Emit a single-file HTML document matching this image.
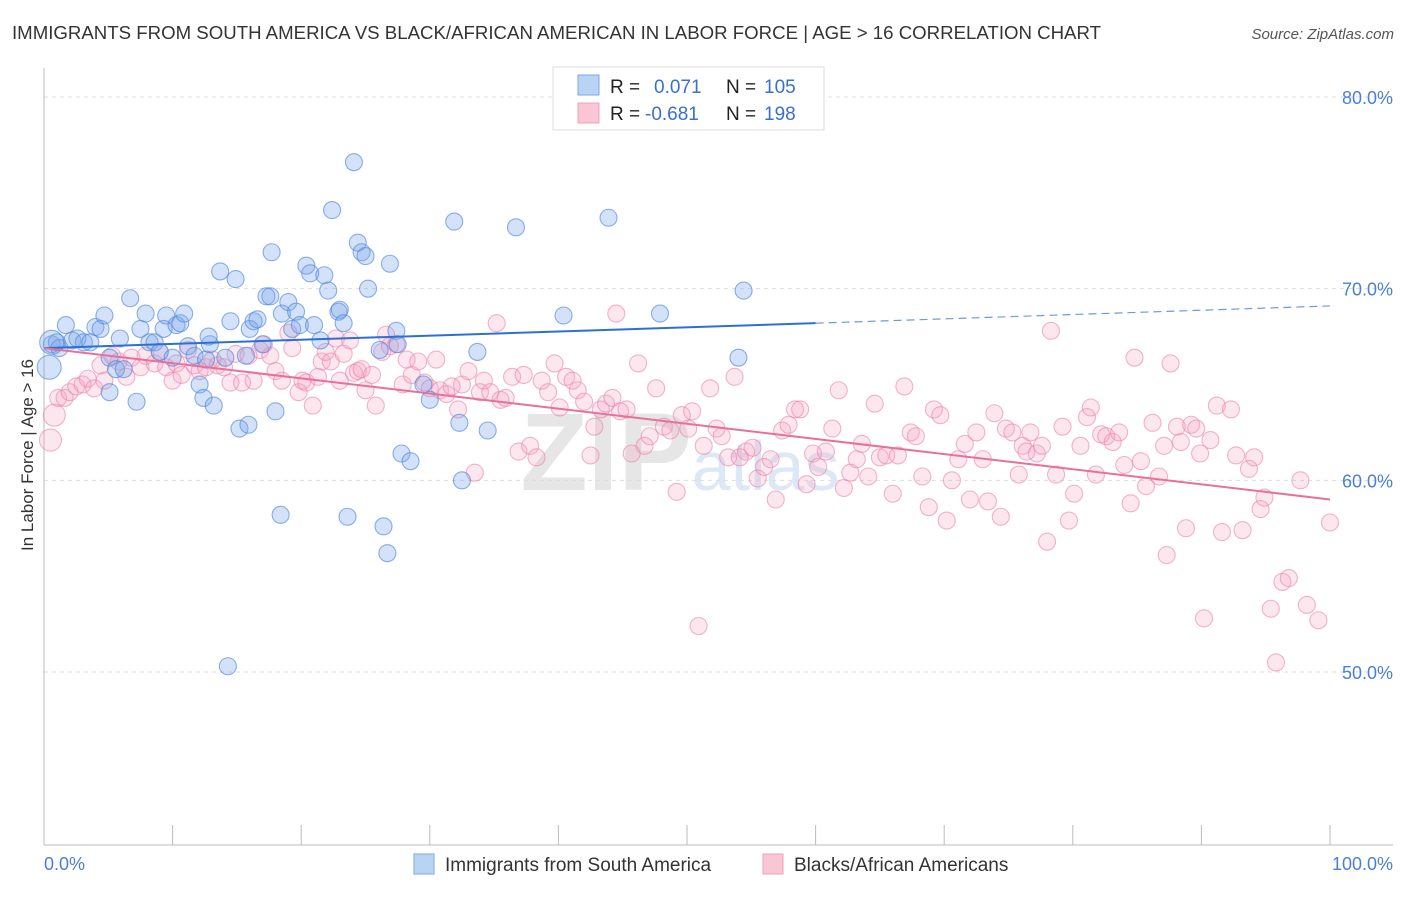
<!DOCTYPE html>
<html><head><meta charset="utf-8"><style>
body{margin:0;background:#fff;font-family:"Liberation Sans",sans-serif;}
svg text{font-family:"Liberation Sans",sans-serif;}
</style></head><body>
<svg id="chart" width="1406" height="892" xmlns="http://www.w3.org/2000/svg">
<text x="12" y="39" font-size="18" fill="#333" textLength="1089" lengthAdjust="spacingAndGlyphs">IMMIGRANTS FROM SOUTH AMERICA VS BLACK/AFRICAN AMERICAN IN LABOR FORCE | AGE &gt; 16 CORRELATION CHART</text>
<text x="1394" y="39" font-size="15" fill="#555" font-style="italic" text-anchor="end">Source: ZipAtlas.com</text>
<text x="680" y="490" font-size="110" fill="#e6e6e6" text-anchor="middle" font-weight="bold">ZIP<tspan fill="#dde8f6" font-size="70" font-weight="normal">atlas</tspan></text>
<g id="grid"></g>
<g id="axes"></g>
<g id="pts"></g>
<g id="lines"></g>
<text transform="translate(33,455) rotate(-90)" font-size="17" fill="#333" text-anchor="middle">In Labor Force | Age &gt; 16</text>
<text x="44" y="870" font-size="18" fill="#4a7fd4">0.0%</text>
<text x="1393" y="870" font-size="18" fill="#4a7fd4" text-anchor="end">100.0%</text>
<g>
<rect x="553" y="67" width="271" height="63" fill="#fff" stroke="#ddd"/>
<rect x="578" y="75" width="21" height="20" fill="#b9d3f5" stroke="#7aa8e6"/>
<rect x="578" y="103" width="21" height="20" fill="#f9c6d6" stroke="#f0a0bc"/>
<text x="610" y="93" font-size="19" fill="#222">R =</text>
<text x="654" y="93" font-size="19" fill="#3a6fd0">0.071</text>
<text x="726" y="93" font-size="19" fill="#222">N =</text>
<text x="764" y="93" font-size="19" fill="#3a6fd0">105</text>
<text x="610" y="120" font-size="19" fill="#222">R =</text>
<text x="645" y="120" font-size="19" fill="#3a6fd0">-0.681</text>
<text x="726" y="120" font-size="19" fill="#222">N =</text>
<text x="764" y="120" font-size="19" fill="#3a6fd0">198</text>
</g>
<g>
<rect x="414" y="854" width="20" height="20" fill="#b9d3f5" stroke="#7aa8e6"/>
<text x="445" y="871" font-size="19" fill="#333">Immigrants from South America</text>
<rect x="763" y="854" width="20" height="20" fill="#f9c6d6" stroke="#f0a0bc"/>
<text x="794" y="871" font-size="19" fill="#333">Blacks/African Americans</text>
</g>
</svg>
<script>
const yTicks=[80,70,60,50];
const xTickCount=10;
const blueX=[0.6,1.0,1.2,1.7,2.2,2.6,3.1,3.6,4.0,4.4,4.7,5.1,5.6,5.9,6.2,5.1,6.7,7.2,7.5,7.9,8.2,8.6,9.0,9.3,9.5,10.0,10.3,10.6,10.9,11.2,11.7,12.1,12.4,12.6,12.9,13.2,12.8,13.7,14.1,14.5,14.9,15.2,15.9,16.0,16.3,16.6,15.7,17.0,17.3,17.6,17.7,18.0,18.4,18.5,19.0,19.3,19.6,19.9,20.4,20.7,21.0,21.5,21.8,22.1,22.4,22.9,23.0,23.3,23.6,24.1,24.4,24.7,25.0,25.2,26.1,26.4,26.7,26.9,27.4,27.5,27.8,28.5,29.5,30.0,31.9,32.3,32.5,33.7,34.5,36.7,40.4,43.9,47.9,54.0,54.4,14.3,0.4,0.6];
const blueY=[67.1,67.2,66.9,68.1,67.3,67.4,67.2,67.2,68.0,67.9,68.6,66.4,65.8,67.4,65.8,64.6,69.5,64.1,67.9,68.7,67.2,67.2,66.7,67.9,68.6,66.4,68.1,68.2,68.7,67.0,66.5,65.0,64.3,66.3,67.1,63.9,67.5,70.9,66.4,68.3,70.5,62.7,62.9,67.9,68.3,68.4,66.5,67.1,69.6,69.6,71.9,63.6,58.2,68.7,69.3,67.9,68.8,68.1,71.2,70.8,68.1,67.3,70.7,69.9,74.1,68.8,68.9,68.2,58.1,76.6,72.4,71.9,71.7,70.0,66.8,57.6,56.2,71.3,67.8,67.1,61.4,61.0,65.0,64.2,73.5,63.0,60.0,66.7,62.6,73.2,68.6,73.7,68.7,66.4,69.9,50.3,65.9,67.2];
const pinkX=[0.5,0.8,1.1,1.6,2.0,2.5,3.0,3.4,3.9,4.4,4.7,5.3,5.8,6.4,6.8,7.5,7.9,8.6,9.0,9.5,10.0,10.3,10.7,11.2,11.7,12.1,12.6,13.1,13.5,14.0,14.5,14.9,15.4,15.9,16.3,16.8,17.1,17.6,18.0,18.5,19.0,19.3,19.8,20.1,20.4,20.9,21.3,21.6,21.9,22.3,22.7,23.0,23.3,23.8,24.1,24.4,24.7,25.0,25.5,25.8,26.3,26.6,26.9,27.4,27.9,28.2,28.6,29.1,29.6,30.0,30.5,30.8,31.3,31.7,32.2,32.5,33.0,33.5,33.9,34.2,34.7,35.2,35.5,35.9,36.4,36.9,37.3,37.8,38.3,38.7,39.2,39.7,40.1,40.6,41.1,41.5,42.0,42.5,42.8,43.3,43.7,44.2,44.5,44.8,45.3,45.7,46.2,46.7,47.1,47.6,48.2,48.7,49.2,49.6,50.1,50.4,50.9,51.3,51.8,52.3,52.7,53.2,53.7,54.1,54.6,55.1,55.5,56.0,56.5,56.9,57.4,57.9,58.4,58.8,59.3,59.8,60.2,60.8,61.3,61.8,62.2,62.7,63.2,63.6,64.1,64.6,65.0,65.5,66.0,66.4,66.9,67.4,67.8,68.3,68.8,69.2,69.7,70.2,70.6,71.1,71.6,72.0,72.5,73.0,73.4,73.9,74.4,74.8,75.3,75.8,76.1,76.4,76.7,77.2,77.6,78.0,78.3,78.7,79.2,79.7,80.1,80.6,81.1,81.4,81.8,82.2,82.6,83.1,83.6,84.0,84.5,84.8,85.3,85.7,86.2,86.7,87.1,87.6,88.1,88.4,88.8,89.2,89.6,89.9,90.2,90.7,91.2,91.6,92.3,92.7,93.2,93.7,94.1,94.6,94.9,95.4,95.8,96.3,96.8,97.7,98.2,99.1,100.0,87.3];
const pinkY=[62.1,63.4,64.3,64.3,64.6,64.9,65.0,65.3,64.8,66.0,65.2,66.5,66.2,65.4,66.4,65.9,66.5,66.1,66.7,65.9,65.2,66.1,65.5,66.8,66.0,65.7,65.9,66.3,66.0,65.9,65.1,66.6,65.1,66.5,65.2,66.8,67.1,66.5,65.7,65.2,67.7,66.9,64.6,65.2,65.1,63.9,65.4,66.2,66.7,66.2,67.4,65.2,66.6,67.3,65.6,65.7,65.8,64.7,65.5,63.9,66.7,67.6,67.0,67.1,65.0,66.3,65.5,66.2,65.1,64.8,66.3,64.7,64.5,64.9,63.7,65.0,65.7,60.4,64.6,65.2,64.6,68.2,64.2,64.3,65.4,61.5,65.5,61.8,61.2,65.2,64.6,66.1,63.8,65.4,65.2,64.7,64.1,61.3,62.8,63.7,64.0,64.3,68.7,63.6,63.7,61.4,66.1,61.8,62.3,64.8,62.8,62.6,59.4,63.4,62.7,63.6,52.4,61.8,64.8,62.7,62.3,61.2,65.4,61.2,61.5,61.7,60.1,60.7,61.1,59.0,62.6,62.9,63.7,63.7,59.8,61.4,60.7,61.5,62.7,64.7,59.6,60.4,61.1,61.9,60.2,64.0,61.2,61.3,59.3,61.3,64.9,62.5,62.3,60.2,58.6,63.7,63.4,57.9,60.0,61.1,61.9,59.0,62.5,61.1,58.9,63.5,58.1,62.7,62.5,60.3,61.8,61.5,62.5,61.4,61.8,56.8,67.8,60.3,62.8,57.9,59.3,61.8,63.3,63.8,60.3,62.4,62.3,62.0,62.5,60.8,58.8,66.4,61.0,59.7,63.0,60.2,61.8,66.1,62.8,62.0,57.5,62.9,62.7,61.4,52.8,62.1,63.9,57.3,63.7,61.3,57.4,60.6,61.2,58.5,59.1,53.3,50.5,54.7,54.9,60.0,53.5,52.7,57.8,56.1];
const blueTrend=[[0,66.9],[60,68.2],[100,69.1]];
const pinkTrend=[[0,66.9],[100,59.0]];
const NS="http://www.w3.org/2000/svg";
const X0=44,X1=1330,Y80=97,Y50=672;
function xs(v){return X0+(X1-X0)*v/100;}
function ys(v){return Y80+(80-v)*(Y50-Y80)/30;}
function mk(tag,attrs,parent){const e=document.createElementNS(NS,tag);for(const k in attrs)e.setAttribute(k,attrs[k]);parent.appendChild(e);return e;}
const grid=document.getElementById('grid'),axes=document.getElementById('axes'),pts=document.getElementById('pts'),lines=document.getElementById('lines');
yTicks.forEach(t=>{
  const l=mk('line',{x1:44,x2:1393,y1:ys(t),y2:ys(t),stroke:'#ddd','stroke-dasharray':'4,4'},grid);
  
  
  const tx=mk('text',{x:1393,y:ys(t)+7,'font-size':18,fill:'#4a7fd4','text-anchor':'end'},grid);
  tx.textContent=t.toFixed(1)+'%';
  
  
});
const yax=mk('line',{x1:44,x2:44,y1:68,y2:845,stroke:'#bbb'},axes);


const xax=mk('line',{x1:44,x2:1393,y1:845,y2:845,stroke:'#bbb'},axes);


for(let i=0;i<=xTickCount;i++){
  const t=mk('line',{x1:xs(i*10),x2:xs(i*10),y1:825,y2:845,stroke:'#bbb'},axes);
  
  
}
pinkX.forEach((x,i)=>{
  const c=mk('circle',{cx:xs(x),cy:ys(pinkY[i]),r:(i<2?11:8.5),fill:'rgba(244,160,190,0.25)',stroke:'rgba(236,130,170,0.6)','stroke-width':1.1},pts);
  
  
});
blueX.forEach((x,i)=>{
  const big=i>=blueX.length-2;
  const c=mk('circle',{cx:xs(x),cy:ys(blueY[i]),r:(big?12:8.5),fill:'rgba(120,165,235,0.32)',stroke:'rgba(80,135,220,0.65)','stroke-width':1.1},pts);
  
  
});
const bl1=mk('line',{x1:xs(blueTrend[0][0]),y1:ys(blueTrend[0][1]),x2:xs(blueTrend[1][0]),y2:ys(blueTrend[1][1]),stroke:'#2c6fd6','stroke-width':2},lines);


const bl2=mk('line',{x1:xs(blueTrend[1][0]),y1:ys(blueTrend[1][1]),x2:xs(blueTrend[2][0]),y2:ys(blueTrend[2][1]),stroke:'#6a9be0','stroke-width':1.2,'stroke-dasharray':'8,5'},lines);


const pl=mk('line',{x1:xs(pinkTrend[0][0]),y1:ys(pinkTrend[0][1]),x2:xs(pinkTrend[1][0]),y2:ys(pinkTrend[1][1]),stroke:'#e8709a','stroke-width':2},lines);


</script>
</body></html>
